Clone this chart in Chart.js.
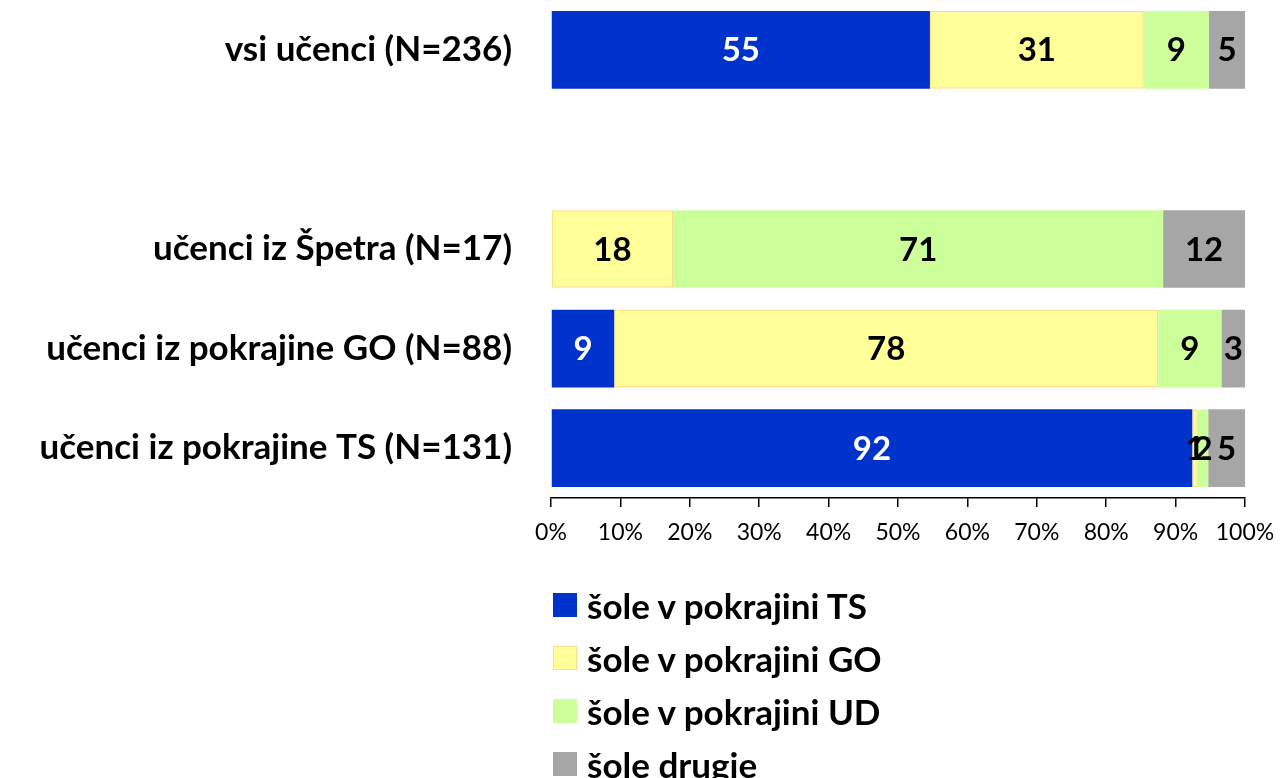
<!DOCTYPE html>
<html>
<head>
<meta charset="utf-8">
<script src="https://cdn.jsdelivr.net/npm/chart.js@4/dist/chart.umd.min.js"></script>
<style>
  html, body { margin: 0; padding: 0; background: #fff; }
  #wrap { position: relative; width: 1281px; height: 778px; }
  #legend { position: absolute; left: 553px; top: 578px; font-family: Lato, sans-serif; font-weight: bold; font-size: 35px; color: #000; }
  #legend .row { display: flex; align-items: center; height: 53px; }
  #legend .box { width: 24px; height: 24px; margin-right: 10px; box-sizing: border-box; }
</style>
</head>
<body>
<div id="wrap">
  <canvas id="chart" width="1281" height="778"></canvas>
  <div id="legend"></div>
</div>
<script>
// data
var categories = ['vsi učenci (N=236)', '', 'učenci iz Špetra (N=17)', 'učenci iz pokrajine GO (N=88)', 'učenci iz pokrajine TS (N=131)'];
var seriesNames = ['šole v pokrajini TS', 'šole v pokrajini GO', 'šole v pokrajini UD', 'šole drugje'];
var solTS     = [54.6, null, 0,    9.1,  92.4];
var solGO     = [30.8, null, 17.6, 78.4, 0.8];
var solUD     = [9.4,  null, 70.6, 9.1,  1.5];
var solDrugje = [5.2,  null, 11.8, 3.4,  5.3];
var xTicks = [0, 10, 20, 30, 40, 50, 60, 70, 80, 90, 100];

var colors = ['#0033CC', '#FFFF99', '#CCFF99', '#A6A6A6'];
var borders = ['#0033CC', '#FFDD88', '#CCFF99', '#A6A6A6'];
var labelColors = ['#fff', '#000', '#000', '#000'];
var seriesData = [solTS, solGO, solUD, solDrugje];

var FONT = 'Lato, sans-serif';

// labels inside the bars
var barLabels = {
    id: 'barLabels',
    afterDatasetsDraw(chart) {
        var ctx = chart.ctx;
        ctx.save();
        ctx.font = 'bold 33px ' + FONT;
        ctx.textAlign = 'center';
        ctx.textBaseline = 'middle';
        chart.data.datasets.forEach((ds, i) => {
            var meta = chart.getDatasetMeta(i);
            meta.data.forEach((bar, j) => {
                var v = ds.data[j];
                if (v === null || v === 0) return;
                var p = bar.getProps(['x', 'y', 'base'], true);
                ctx.fillStyle = labelColors[i];
                ctx.fillText(String(Math.round(v)), (p.x + p.base) / 2, p.y + 1);
            });
        });
        ctx.restore();
    }
};

var ctx = document.getElementById('chart').getContext('2d');
var chart = new Chart(ctx, {
    type: 'bar',
    data: {
        labels: categories,
        datasets: seriesData.map((d, i) => ({
            label: seriesNames[i],
            data: d,
            backgroundColor: colors[i],
            borderColor: borders[i],
            borderWidth: i === 1 ? 1.5 : 0,
            borderSkipped: false,
            categoryPercentage: 1,
            barPercentage: 0.78
        }))
    },
    options: {
        indexAxis: 'y',
        responsive: false,
        animation: false,
        layout: { padding: { top: 0, right: 36, bottom: 218, left: 0 } },
        plugins: {
            legend: { display: false },
            tooltip: { enabled: false }
        },
        scales: {
            x: {
                stacked: true,
                min: 0,
                max: 100,
                afterBuildTicks: (s) => { s.ticks = xTicks.map(v => ({ value: v })); },
                afterFit: (s) => { s.height = 62; s.paddingLeft = 0; s.paddingRight = 0; },
                grid: { drawOnChartArea: false, drawTicks: true, tickLength: 9, color: '#000', lineWidth: 1.5 },
                border: { display: true, color: '#000', width: 1.5 },
                ticks: {
                    callback: v => v + '%',
                    color: '#000',
                    padding: 12,
                    maxRotation: 0,
                    font: { family: FONT, size: 23 }
                }
            },
            y: {
                stacked: true,
                afterFit: (s) => { s.width = 551; s.paddingTop = 0; s.paddingBottom = 0; },
                grid: { display: false, drawTicks: false },
                border: { display: false },
                ticks: {
                    color: '#000',
                    padding: 39,
                    font: { family: FONT, size: 35, weight: 'bold' }
                }
            }
        }
    },
    plugins: [barLabels]
});

// legend, one item per row
var legend = document.getElementById('legend');
seriesNames.forEach((name, i) => {
    var row = document.createElement('div');
    row.className = 'row';
    var box = document.createElement('span');
    box.className = 'box';
    box.style.background = colors[i];
    if (i === 1) box.style.border = '1.5px solid ' + borders[i];
    var txt = document.createElement('span');
    txt.textContent = name;
    row.appendChild(box);
    row.appendChild(txt);
    legend.appendChild(row);
});
</script>
</body>
</html>
